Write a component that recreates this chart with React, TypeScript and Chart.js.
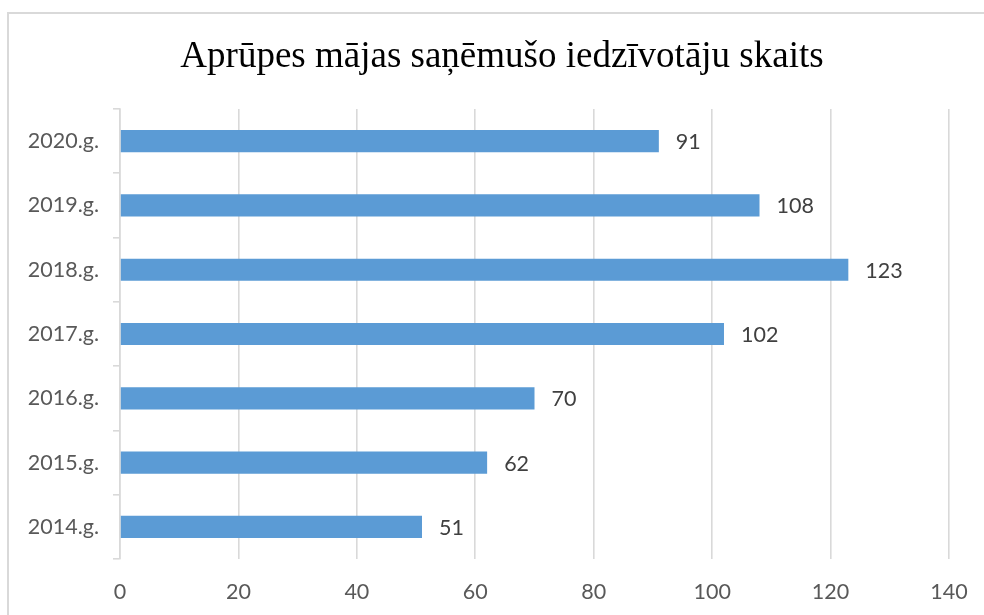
import React, { useEffect, useRef } from "react";
import { Chart, registerables } from "chart.js";

Chart.register(...registerables);

const TITLE = "Aprūpes mājas saņēmušo iedzīvotāju skaits";
const categories = ["2020.g.", "2019.g.", "2018.g.", "2017.g.", "2016.g.", "2015.g.", "2014.g."];
const values = [91, 108, 123, 102, 70, 62, 51];
const xMin = 0;
const xMax = 140;
const xStep = 20;

const BAR_COLOR = "#5B9BD5";
const GRID_COLOR = "#d9d9d9";
const TICK_COLOR = "#595959";
const LABEL_COLOR = "#404040";
const FONT = "Lato, 'Open Sans', sans-serif";

const titlePlugin = {
  id: "customTitle",
  afterDraw(chart: any) {
    const ctx = chart.ctx;
    ctx.save();
    ctx.font = "37px 'Liberation Serif', 'Times New Roman', serif";
    ctx.fillStyle = "#000000";
    ctx.textAlign = "center";
    ctx.textBaseline = "alphabetic";
    ctx.fillText(TITLE, 502, 67);
    ctx.restore();
  },
};

const valueLabelPlugin = {
  id: "valueLabels",
  afterDatasetsDraw(chart: any) {
    const ctx = chart.ctx;
    const meta = chart.getDatasetMeta(0);
    ctx.save();
    ctx.font = `21.5px ${FONT}`;
    ctx.fillStyle = LABEL_COLOR;
    ctx.textAlign = "left";
    ctx.textBaseline = "middle";
    meta.data.forEach((bar: any, i: number) => {
      ctx.fillText(String(values[i]), bar.x + 17, bar.y + 1);
    });
    ctx.restore();
  },
};

export default function App() {
  const ref = useRef<HTMLCanvasElement | null>(null);

  useEffect(() => {
    if (!ref.current) return;
    const chart = new Chart(ref.current, {
      type: "bar",
      data: {
        labels: categories,
        datasets: [
          {
            data: values,
            backgroundColor: BAR_COLOR,
            borderWidth: 0,
            barPercentage: 0.345,
            categoryPercentage: 1,
          },
        ],
      },
      options: {
        indexAxis: "y",
        animation: false,
        responsive: false,
        maintainAspectRatio: false,
        layout: { padding: { left: 0, right: 35, top: 109, bottom: 0 } },
        plugins: {
          legend: { display: false },
          title: { display: false },
          tooltip: { enabled: false },
        },
        scales: {
          x: {
            min: xMin,
            max: xMax,
            ticks: {
              stepSize: xStep,
              color: TICK_COLOR,
              font: { family: FONT, size: 21.5 },
              padding: 20,
            },
            grid: { color: GRID_COLOR, lineWidth: 1.6, drawTicks: false },
            border: { display: false },
            afterFit(scale: any) {
              scale.height = 56;
              scale.paddingLeft = 0;
              scale.paddingRight = 0;
            },
          },
          y: {
            ticks: {
              color: TICK_COLOR,
              font: { family: FONT, size: 21.5 },
              padding: 14,
            },
            grid: {
              drawOnChartArea: false,
              drawTicks: true,
              tickLength: 7,
              color: GRID_COLOR,
              lineWidth: 1.6,
            },
            border: { display: true, color: GRID_COLOR, width: 1.6 },
            afterFit(scale: any) {
              scale.width = 120;
              scale.paddingTop = 0;
              scale.paddingBottom = 0;
            },
          },
        },
      },
      plugins: [titlePlugin, valueLabelPlugin],
    });
    return () => chart.destroy();
  }, []);

  return (
    <div style={{ position: "absolute", left: 0, top: 0, width: 984, height: 615, overflow: "hidden", background: "#ffffff" }}>
      <div
        style={{
          position: "absolute",
          left: 7,
          top: 12,
          width: 1000,
          height: 640,
          border: "2px solid #d9d9d9",
          boxSizing: "border-box",
        }}
      />
      <canvas ref={ref} width={984} height={615} style={{ position: "absolute", left: 0, top: 0, width: 984, height: 615 }} />
    </div>
  );
}
